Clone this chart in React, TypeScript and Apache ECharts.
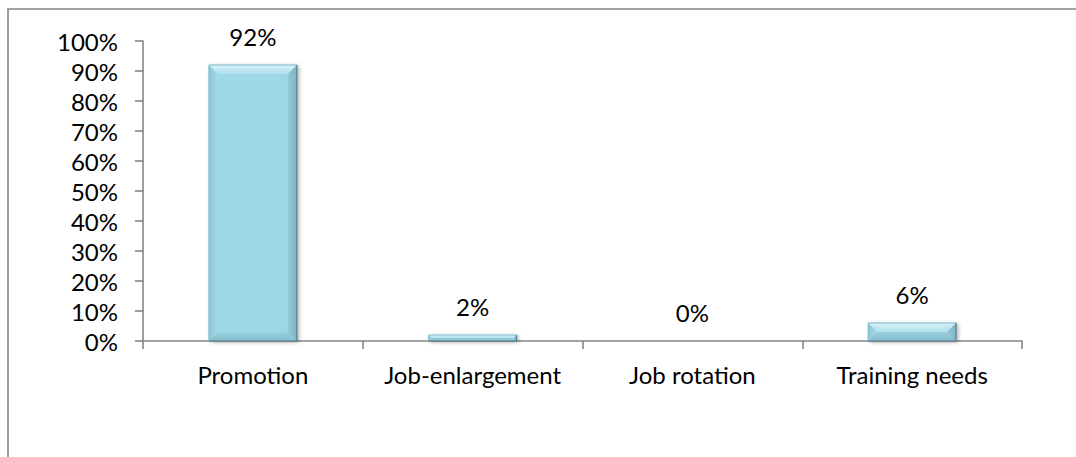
import React, { useEffect, useRef } from "react";
import * as echarts from "echarts";

const categories = ["Promotion", "Job-enlargement", "Job rotation", "Training needs"];
const shares = [92, 2, 0, 6];
const yTicks = { min: 0, max: 100, interval: 10 };

const FONT = "Lato, 'Open Sans', sans-serif";
const AXIS_GREY = "#868686";

// Bevelled face drawn on top of each bar: light top/left edges, darker bottom/right edges.
function renderBevel(params: any, api: any) {
  const cat = api.value(0);
  const val = api.value(1);
  const topPt = api.coord([cat, val]);
  const basePt = api.coord([cat, 0]);
  const w = api.size([1, 0])[0] * 0.4;
  const left = topPt[0] - w / 2;
  const right = topPt[0] + w / 2;
  const top = topPt[1];
  const bottom = basePt[1];
  const h = bottom - top;
  if (h <= 0.5) return null;
  const b = Math.min(9, h / 2);
  return {
    type: "group",
    children: [
      {
        type: "polygon",
        shape: { points: [[left, top], [right, top], [right - b, top + b], [left + b, top + b]] },
        style: {
          fill: new echarts.graphic.LinearGradient(0, 0, 0, 1, [
            { offset: 0, color: "#d8f2f9" },
            { offset: 1, color: "#aee0ec" },
          ]),
        },
      },
      {
        type: "polygon",
        shape: { points: [[left, bottom], [right, bottom], [right - b, bottom - b], [left + b, bottom - b]] },
        style: {
          fill: new echarts.graphic.LinearGradient(0, 0, 0, 1, [
            { offset: 0, color: "#97d0de" },
            { offset: 1, color: "#86bccb" },
          ]),
        },
      },
      {
        type: "polygon",
        shape: { points: [[left, top], [left + b, top + b], [left + b, bottom - b], [left, bottom]] },
        style: {
          fill: new echarts.graphic.LinearGradient(0, 0, 1, 0, [
            { offset: 0, color: "#8cc6d5" },
            { offset: 1, color: "#a4dbe9" },
          ]),
        },
      },
      {
        type: "polygon",
        shape: { points: [[right, top], [right - b, top + b], [right - b, bottom - b], [right, bottom]] },
        style: {
          fill: new echarts.graphic.LinearGradient(0, 0, 1, 0, [
            { offset: 0, color: "#93cbd9" },
            { offset: 1, color: "#7eb3c2" },
          ]),
        },
      },
      {
        type: "polyline",
        shape: { points: [[left, bottom], [left, top], [right, top]] },
        style: { stroke: "#7fbccb", lineWidth: 1, fill: "none" },
      },
      {
        type: "polyline",
        shape: { points: [[right, top], [right, bottom], [left, bottom]] },
        style: { stroke: "#587f8b", lineWidth: 1.2, fill: "none" },
      },
    ],
  };
}

export default function App() {
  const ref = useRef<HTMLDivElement>(null);

  useEffect(() => {
    if (!ref.current) return;
    const chart = echarts.init(ref.current, null, { renderer: "svg" });
    chart.setOption({
      animation: false,
      backgroundColor: "#ffffff",
      textStyle: { fontFamily: FONT },
      graphic: [
        {
          type: "rect",
          shape: { x: 8, y: 9, width: 1200, height: 600 },
          style: { fill: "none", stroke: AXIS_GREY, lineWidth: 1.6 },
          silent: true,
        },
      ],
      grid: { left: 143, right: 54, top: 41, bottom: 116, containLabel: false },
      xAxis: {
        type: "category",
        data: categories,
        axisLine: { lineStyle: { color: AXIS_GREY, width: 1.6 } },
        axisTick: { show: true, length: 8, lineStyle: { color: AXIS_GREY, width: 1.6 } },
        axisLabel: { color: "#000", fontSize: 24, fontFamily: FONT, margin: 21, interval: 0 },
        splitLine: { show: false },
      },
      yAxis: {
        type: "value",
        min: yTicks.min,
        max: yTicks.max,
        interval: yTicks.interval,
        axisLine: { show: true, lineStyle: { color: AXIS_GREY, width: 1.6 } },
        axisTick: { show: true, length: 8, lineStyle: { color: AXIS_GREY, width: 1.6 } },
        axisLabel: { color: "#000", fontSize: 24, fontFamily: FONT, margin: 25, formatter: "{value}%" },
        splitLine: { show: false },
      },
      series: [
        {
          type: "bar",
          data: shares,
          barWidth: "40%",
          itemStyle: {
            color: "#9dd8e7",
            shadowColor: "rgba(0,0,0,0.35)",
            shadowBlur: 4,
            shadowOffsetX: 2,
            shadowOffsetY: 1,
          },
          label: {
            show: true,
            position: "top",
            distance: 17,
            color: "#000",
            fontSize: 24,
            fontFamily: FONT,
            formatter: (p: any) => `${p.value}%`,
          },
          z: 2,
        },
        {
          type: "custom",
          data: shares.map((v, i) => [i, v]),
          renderItem: renderBevel,
          encode: { x: 0, y: 1 },
          silent: true,
          z: 3,
        },
      ],
    });
    return () => chart.dispose();
  }, []);

  return (
    <div
      ref={ref}
      style={{ position: "fixed", left: 0, top: 0, width: 1076, height: 457, background: "#fff" }}
    />
  );
}
